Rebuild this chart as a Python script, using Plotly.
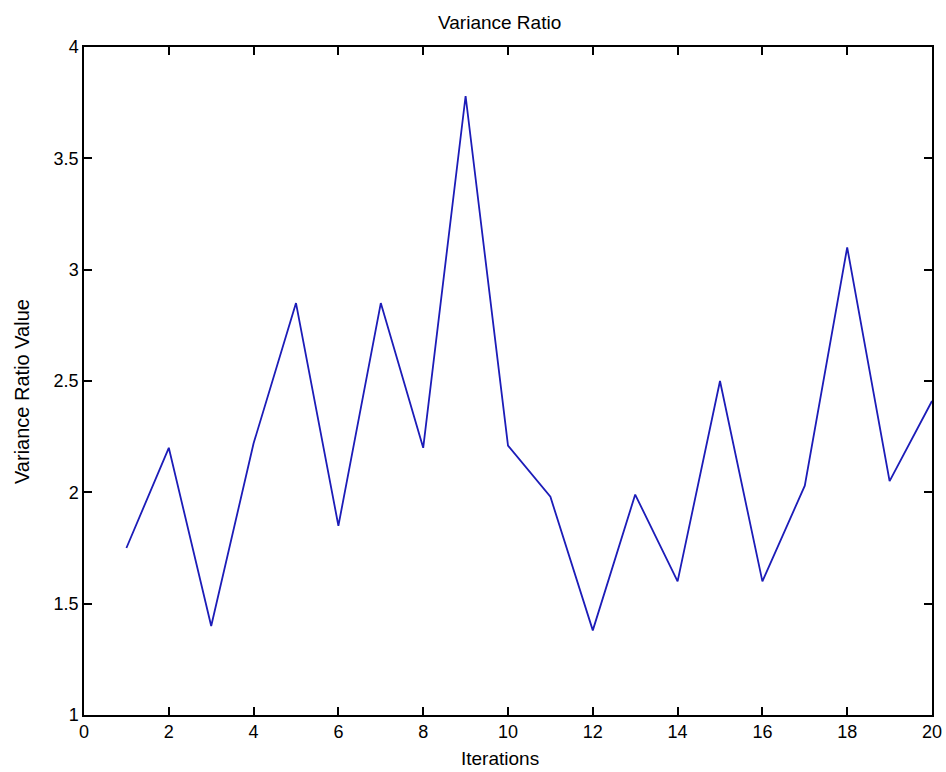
import plotly.graph_objects as go

iterations = list(range(1, 21))
variance_ratio = [1.75, 2.20, 1.40, 2.22, 2.85, 1.85, 2.85, 2.20, 3.78, 2.21,
                  1.98, 1.38, 1.99, 1.60, 2.50, 1.60, 2.03, 3.10, 2.05, 2.41]
x_ticks = list(range(0, 21, 2))
y_ticks = [1, 1.5, 2, 2.5, 3, 3.5, 4]

fig = go.Figure()
fig.add_trace(go.Scatter(x=iterations, y=variance_ratio, mode="lines",
                         line=dict(color="#1c1cb8", width=1.8),
                         showlegend=False))

font = "Liberation Sans, Arial, sans-serif"
axis_common = dict(showline=True, linecolor="black", linewidth=1.5, mirror="ticks",
                   ticks="inside", ticklen=8, tickwidth=1.5, tickcolor="black",
                   showgrid=False, zeroline=False, automargin=False,
                   tickfont=dict(family=font, size=18, color="black"))

L, R, T, B = 84, 14, 47, 57
W, H = 946, 772
pw, ph = W - L - R, H - T - B

def px_x(p):
    return (p - L) / pw

def px_y(p):
    return (H - B - p) / ph

fig.update_layout(
    width=W, height=H,
    margin=dict(l=L, r=R, t=T, b=B),
    paper_bgcolor="white", plot_bgcolor="white",
    xaxis=dict(range=[0, 20], tickvals=x_ticks, ticktext=[str(v) for v in x_ticks],
               **axis_common),
    yaxis=dict(range=[1, 4], tickvals=y_ticks, ticktext=[("%g" % v) for v in y_ticks],
               **axis_common),
    annotations=[
        dict(text="Variance Ratio", xref="paper", yref="paper", x=px_x(499), y=px_y(23),
             xanchor="center", yanchor="middle", showarrow=False,
             font=dict(family=font, size=19, color="black")),
        dict(text="Iterations", xref="paper", yref="paper", x=px_x(500), y=px_y(758),
             xanchor="center", yanchor="middle", showarrow=False,
             font=dict(family=font, size=19, color="black")),
        dict(text="Variance Ratio Value", xref="paper", yref="paper", x=px_x(22), y=px_y(392),
             xanchor="center", yanchor="middle", showarrow=False, textangle=-90,
             font=dict(family=font, size=20, color="black")),
    ],
)

fig.write_html("out.html", config={"displayModeBar": False},
               post_script="document.body.style.margin='0';document.body.style.padding='0';")
